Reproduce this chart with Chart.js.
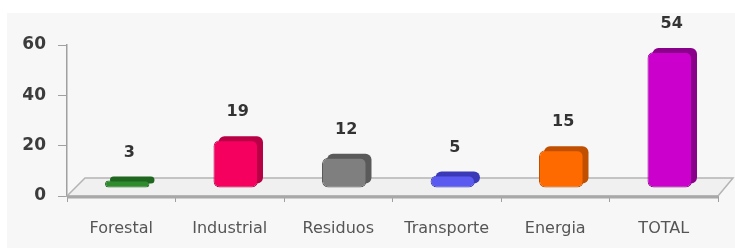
<!DOCTYPE html>
<html>
<head>
<meta charset="utf-8">
<script src="https://cdn.jsdelivr.net/npm/chart.js"></script>
<style>
html, body { margin: 0; padding: 0; background: #fff; }
#wrap { width: 735px; height: 250px; }
</style>
</head>
<body>
<div id="wrap"><canvas id="myChart"></canvas></div>
<script>
const categories = ['Forestal', 'Industrial', 'Residuos', 'Transporte', 'Energia', 'TOTAL'];
const values = [3, 19, 12, 5, 15, 54];
const yTicks = [0, 20, 40, 60];
const barColors = ['#2e8b2e', '#f5005e', '#7f7f7f', '#5a5af0', '#ff6a00', '#cc00cc'];
const sideColors = ['#1f661f', '#b80046', '#5a5a5a', '#3a3ab8', '#c05000', '#8a008a'];

// fake 3D: shift the bars back into the floor, draw a dark side behind
const depth = { dx: 6, dy: -8, side: 4 };

const bgPlugin = {
  id: 'bg',
  beforeDraw(chart) {
    const c = chart.ctx;
    c.save();
    c.fillStyle = '#f7f7f7';
    c.fillRect(7, 13, chart.width - 7, chart.height - 15);
    c.restore();
  },
  beforeDatasetsDraw(chart) {
    // floor
    const a = chart.chartArea;
    const y0 = chart.scales.y.getPixelForValue(0);
    const c = chart.ctx;
    c.save();
    c.beginPath();
    c.moveTo(a.left, y0);
    c.lineTo(a.left + 18, y0 - 18);
    c.lineTo(a.right + 15, y0 - 18);
    c.lineTo(a.right, y0);
    c.closePath();
    c.fillStyle = '#f0f0f0';
    c.fill();
    c.strokeStyle = '#b4b4b4';
    c.lineWidth = 1.5;
    c.stroke();
    c.beginPath();
    c.moveTo(a.left, y0 + 1);
    c.lineTo(a.right, y0 + 1);
    c.lineWidth = 3;
    c.strokeStyle = '#a8a8a8';
    c.stroke();
    c.restore();

    c.save();
    c.translate(depth.dx, depth.dy);
    const meta = chart.getDatasetMeta(0);
    meta.data.forEach((bar, i) => {
      const w = bar.width;
      c.beginPath();
      c.roundRect(bar.x - w / 2 + depth.side + 1, bar.y - depth.side, w, bar.base - bar.y, 6);
      c.fillStyle = sideColors[i];
      c.fill();
    });
  },
  afterDatasetsDraw(chart) {
    const c = chart.ctx;
    const meta = chart.getDatasetMeta(0);
    c.font = 'bold 16px "DejaVu Sans"';
    c.fillStyle = '#333';
    c.textAlign = 'center';
    c.textBaseline = 'middle';
    meta.data.forEach((bar, i) => {
      c.fillText(String(values[i]), bar.x + 2, bar.y - 28);
    });
    c.restore();
  }
};

const ctx = document.getElementById('myChart').getContext('2d');
const chart = new Chart(ctx, {
  type: 'bar',
  data: {
    labels: categories,
    datasets: [{
      data: values,
      backgroundColor: barColors,
      borderColor: sideColors,
      borderWidth: 1,
      borderRadius: 6,
      borderSkipped: false,
      barPercentage: 0.41,
      categoryPercentage: 1
    }]
  },
  options: {
    responsive: true,
    maintainAspectRatio: false,
    animation: false,
    layout: { padding: { top: 45, right: 17, left: 0, bottom: 0 } },
    plugins: {
      legend: { display: false },
      tooltip: { enabled: false }
    },
    scales: {
      x: {
        grid: { display: true, drawOnChartArea: false, tickLength: 6, color: '#a0a0a0', offset: true },
        border: { display: false },
        ticks: { color: '#555', padding: 17, font: { family: 'DejaVu Sans', size: 16 } },
        afterFit(s) { s.height = 54; }
      },
      y: {
        min: 0,
        max: 60,
        afterBuildTicks(s) { s.ticks = yTicks.map(v => ({ value: v })); },
        grid: { display: true, drawOnChartArea: false, tickLength: 9, color: '#a0a0a0' },
        border: { display: true, color: '#a0a0a0', width: 1.5 },
        ticks: { color: '#3c3c3c', padding: 12, font: { family: 'DejaVu Sans', size: 17, weight: 'bold' } },
        afterFit(s) { s.width = 67; }
      }
    }
  },
  plugins: [bgPlugin]
});
</script>
</body>
</html>
